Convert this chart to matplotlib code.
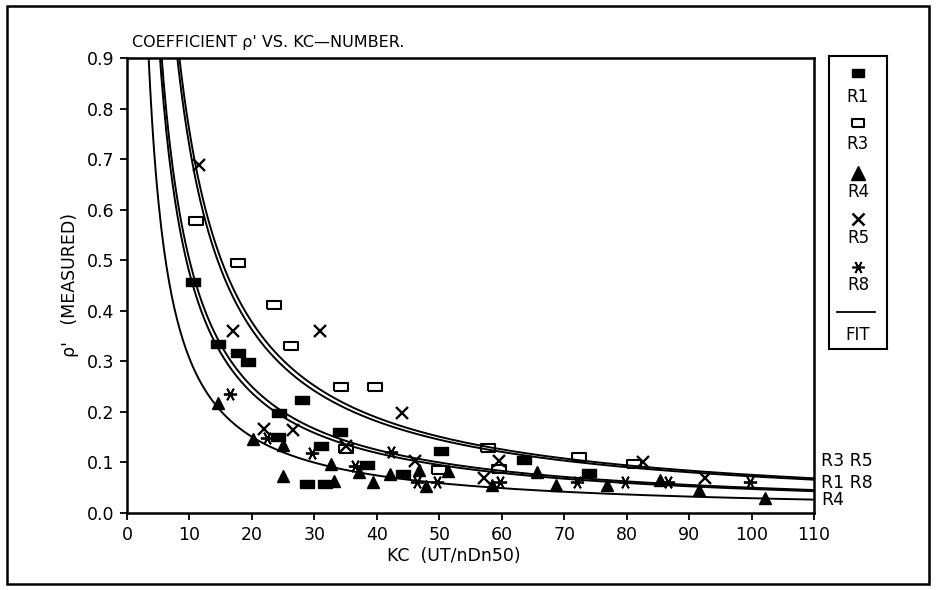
import matplotlib
matplotlib.use("Agg")
import matplotlib.pyplot as plt        ## plotting
import numpy as np                     ## fit curves
from matplotlib.patches import Rectangle

# measured points, KC number and coefficient p'
r1_kc = [10.5, 14.5, 17.7, 19.4, 28.1, 24.4, 34.1, 24.2, 31.1, 38.4, 28.8, 31.7, 50.3, 63.6, 44.2, 74.0]
r1_cp = [0.457, 0.335, 0.317, 0.298, 0.224, 0.197, 0.161, 0.150, 0.133, 0.095, 0.057, 0.057, 0.123, 0.104, 0.077, 0.079]

r3_kc = [11.0, 17.7, 23.5, 26.2, 34.2, 39.7, 35.1, 57.8, 72.3, 50.0, 59.5, 81.1]
r3_cp = [0.577, 0.494, 0.412, 0.331, 0.249, 0.249, 0.127, 0.128, 0.110, 0.085, 0.088, 0.097]

r4_kc = [14.5, 20.2, 24.9, 32.6, 37.2, 24.9, 33.2, 42.1, 46.8, 51.4, 39.4, 47.9, 58.4, 65.6, 68.7, 76.8, 85.3, 91.6, 102.2]
r4_cp = [0.217, 0.146, 0.135, 0.097, 0.082, 0.073, 0.064, 0.077, 0.085, 0.083, 0.062, 0.053, 0.055, 0.082, 0.055, 0.055, 0.065, 0.046, 0.029]

r5_kc = [11.6, 16.9, 30.9, 21.9, 26.5, 35.1, 44.1, 46.1, 59.5, 57.1, 82.6, 92.6]
r5_cp = [0.688, 0.360, 0.360, 0.166, 0.164, 0.132, 0.197, 0.102, 0.102, 0.069, 0.100, 0.069]

r8_kc = [16.5, 22.4, 29.7, 36.5, 42.3, 46.4, 49.7, 59.7, 72.0, 79.7, 86.6, 99.8]
r8_cp = [0.235, 0.148, 0.119, 0.092, 0.121, 0.062, 0.062, 0.062, 0.062, 0.062, 0.062, 0.062]

# power law fits  p' = a * KC^b
fit_names = ["R3", "R5", "R1", "R8", "R4"]
fit_a = [7.25, 7.55, 4.75, 5.0, 3.2]
fit_b = [-1.0, -1.0, -1.0, -1.0, -1.02]

x_ticks = [0, 10, 20, 30, 40, 50, 60, 70, 80, 90, 100, 110]
y_ticks = [0.0, 0.1, 0.2, 0.3, 0.4, 0.5, 0.6, 0.7, 0.8, 0.9]

W, H = 936, 590
fig = plt.figure(figsize=(W / 100, H / 100), dpi=100)
fig.patches.append(Rectangle((7 / W, 6 / H), 922 / W, 578 / H, transform=fig.transFigure,
                             fill=False, lw=1.8, color="black"))

ax = fig.add_axes([127 / W, 1 - 513 / H, 687 / W, (513 - 58) / H])

rect = [(-1.5, -1), (1.5, -1), (1.5, 1), (-1.5, 1), (-1.5, -1)]
ax.plot(r1_kc, r1_cp, ls="none", marker=rect, ms=9.5, mfc="black", mec="black")
ax.plot(r3_kc, r3_cp, ls="none", marker=rect, ms=9.5, mfc="none", mec="black", mew=1.5)
ax.plot(r4_kc, r4_cp, ls="none", marker="^", ms=8.5, mfc="black", mec="black")
ax.plot(r5_kc, r5_cp, ls="none", marker="x", ms=8.5, mec="black", mew=1.7)
ax.plot(r8_kc, r8_cp, ls="none", marker=(6, 2, 90), ms=9.5, mec="black", mew=1.3)

kc = np.linspace(2, 110, 500)
for a, b in zip(fit_a, fit_b):
    ax.plot(kc, a * kc ** b, color="black", lw=1.4)

ax.set_xlim(0, 110)
ax.set_ylim(0, 0.9)
ax.set_xticks(x_ticks)
ax.set_yticks(y_ticks)
ax.set_yticklabels(["%.1f" % v for v in y_ticks])
ax.tick_params(direction="out", length=5, width=1.3, labelsize=12.5, pad=4)
for s in ax.spines.values():
    s.set_linewidth(1.8)

ax.set_xlabel("KC  (UT/nDn50)", fontsize=12.5)
ax.xaxis.set_label_coords(0.475, -0.075)
ax.set_ylabel("ρ'   (MEASURED)", fontsize=12.5, labelpad=6)

fig.text(132 / W, 1 - 42 / H, "COEFFICIENT ρ' VS. KC\u2014NUMBER.", fontsize=11.5,
         family=["Liberation Sans Narrow", "DejaVu Sans"], va="center", ha="left")

# labels for the fit curves at the right end
ax.text(1.01, 0.102, "R3 R5", transform=ax.get_yaxis_transform(), fontsize=12.5, va="center", clip_on=False)
ax.text(1.01, 0.060, "R1 R8", transform=ax.get_yaxis_transform(), fontsize=12.5, va="center", clip_on=False)
ax.text(1.01, 0.026, "R4", transform=ax.get_yaxis_transform(), fontsize=12.5, va="center", clip_on=False)

# legend box
lg = fig.add_axes([829 / W, 1 - 349 / H, 58 / W, (349 - 56) / H])
lg.set_xlim(0, 1)
lg.set_ylim(0, 1)
lg.set_xticks([])
lg.set_yticks([])
for s in lg.spines.values():
    s.set_linewidth(1.5)
lg.plot([0.5], [0.942], ls="none", marker=rect, ms=9, mfc="black", mec="black")
lg.plot([0.5], [0.771], ls="none", marker=rect, ms=9, mfc="none", mec="black", mew=1.5)
lg.plot([0.5], [0.601], ls="none", marker="^", ms=10, mfc="black", mec="black")
lg.plot([0.5], [0.444], ls="none", marker="x", ms=8, mec="black", mew=1.8)
lg.plot([0.5], [0.280], ls="none", marker=(6, 2, 90), ms=9, mec="black", mew=1.2)
lg.plot([0.13, 0.8], [0.126, 0.126], color="black", lw=1.3)
for name, yy in zip(["R1", "R3", "R4", "R5", "R8", "FIT"], [0.860, 0.700, 0.536, 0.379, 0.218, 0.048]):
    lg.text(0.5, yy, name, ha="center", va="center", fontsize=12,
            family=["Liberation Sans Narrow", "DejaVu Sans"] if name == "FIT" else None)

plt.savefig("out.png", dpi=100)
